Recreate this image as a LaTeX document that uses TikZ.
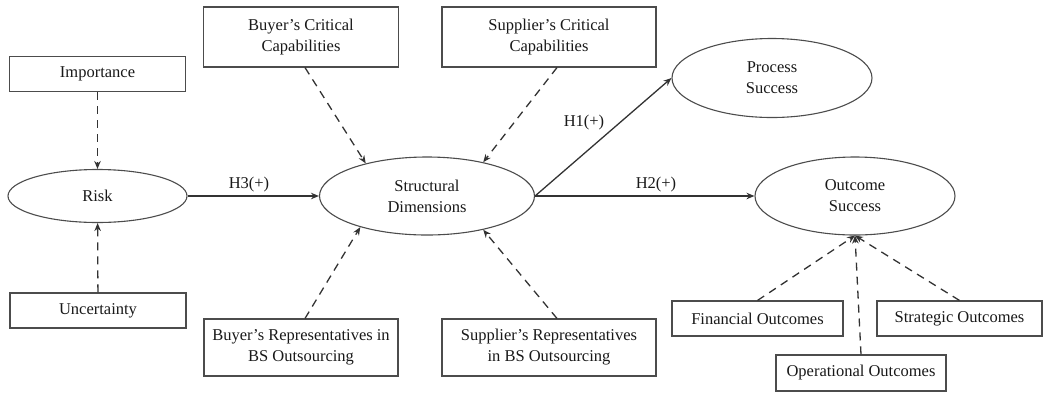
\documentclass[tikz,border=0pt]{standalone}
\usepackage{fontspec}
\setmainfont{Liberation Serif}
\usetikzlibrary{positioning, shapes.geometric, arrows.meta}

\begin{document}
\begin{tikzpicture}[x=1pt, y=-1pt, font=\fontsize{16.5}{21}\selectfont, text=black!90,
        box/.style={rectangle, draw=black!70, line width=1.1pt, align=center, inner sep=0pt},
        latent/.style={ellipse, draw=black!70, line width=1.1pt, align=center, inner sep=0pt},
        effect/.style={-{Stealth[length=8pt, width=6.5pt]}, draw=black!80, line width=1.3pt},
        indicator/.style={effect, dash pattern=on 8pt off 6pt}]
        \useasboundingbox (0,0) rectangle (1045,392);

        % Constructs
        \node (risk) [latent, minimum width=179pt, minimum height=53pt] at (97.5,196) {Risk}; % Risk
        \node (sd) [latent, minimum width=215pt, minimum height=78pt] at (427,196) {Structural\\Dimensions}; % Structural dimensions
        \node (ps) [latent, minimum width=200pt, minimum height=79pt] at (772,78) {Process\\Success}; % Process success
        \node (os) [latent, minimum width=200pt, minimum height=78pt] at (855,196) {Outcome\\Success}; % Outcome success

        % Antecedents of risk
        \node (imp) [box, minimum width=176pt, minimum height=35pt] at (97.5,74) {Importance};
        \node (unc) [box, minimum width=176pt, minimum height=35pt] at (98,310.5) {Uncertainty};

        % Antecedents of structural dimensions
        \node (bcc) [box, minimum width=195pt, minimum height=60pt] at (301,37) {Buyer’s Critical\\Capabilities};
        \node (scc) [box, minimum width=214pt, minimum height=60pt] at (549,37) {Supplier’s Critical\\Capabilities};
        \node (brep) [box, minimum width=194pt, minimum height=57pt] at (301,347.5) {Buyer’s Representatives in\\BS Outsourcing};
        \node (srep) [box, minimum width=214pt, minimum height=57pt] at (549,347.5) {Supplier’s Representatives\\in BS Outsourcing};

        % Outcome indicators
        \node (fin) [box, minimum width=171pt, minimum height=35pt] at (757.5,318.5) {Financial Outcomes};
        \node (str) [box, minimum width=165pt, minimum height=35pt] at (959.5,318.5) {Strategic Outcomes};
        \node (ope) [box, minimum width=170pt, minimum height=36pt] at (861,373) {Operational Outcomes};

        % Hypotheses
        \draw[effect] (risk) -- (sd);
        \draw[effect] (sd.east) -- (ps.west);
        \draw[effect] (sd) -- (os);
        \node (h3) at (249,185) {H3(+)};
        \node (h1) at (584,123) {H1(+)};
        \node (h2) at (656,185) {H2(+)};

        % Dashed links
        \draw[indicator] (imp) -- (risk);
        \draw[indicator] (unc) -- (risk);
        \draw[indicator] ([xshift=4pt]bcc.south) -- (sd.152);
        \draw[indicator] ([xshift=8pt]scc.south) -- (sd.31);
        \draw[indicator] ([xshift=4pt]brep.north) -- (sd.205);
        \draw[indicator] ([xshift=8pt]srep.north) -- (sd.329);
        \foreach \k in {fin, ope, str} {
            \draw[indicator] (\k.north) -- (os.south);
        }
\end{tikzpicture}
\end{document}
